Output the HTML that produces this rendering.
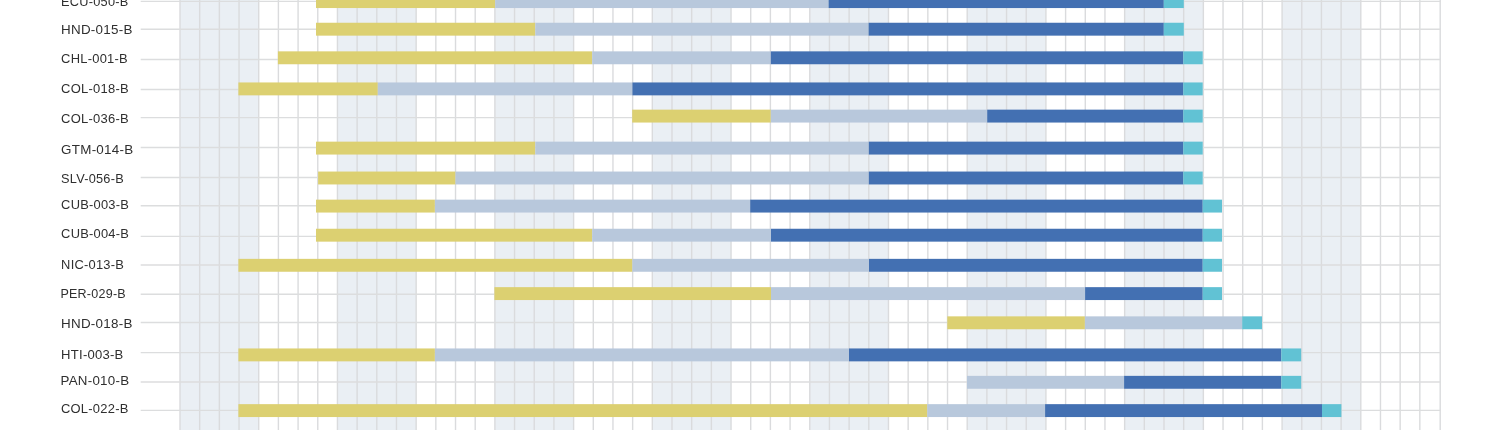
<!DOCTYPE html>
<html lang="en"><head><meta charset="utf-8"><title>Project timeline</title>
<style>
html,body{margin:0;padding:0;background:#fff;}
body{width:1500px;height:430px;overflow:hidden;position:relative;font-family:"Liberation Sans",sans-serif;}
svg{position:absolute;left:0;top:0;display:block;}
text{font-family:"Liberation Sans",sans-serif;font-size:13.3px;fill:#2f2f2f;letter-spacing:0.25px;}
</style></head><body>
<svg width="1500" height="430" viewBox="0 0 1500 430">

<rect x="180.00" y="0" width="78.72" height="430" fill="#eaeff4"/>
<rect x="337.44" y="0" width="78.72" height="430" fill="#eaeff4"/>
<rect x="494.88" y="0" width="78.72" height="430" fill="#eaeff4"/>
<rect x="652.32" y="0" width="78.72" height="430" fill="#eaeff4"/>
<rect x="809.76" y="0" width="78.72" height="430" fill="#eaeff4"/>
<rect x="967.20" y="0" width="78.72" height="430" fill="#eaeff4"/>
<rect x="1124.64" y="0" width="78.72" height="430" fill="#eaeff4"/>
<rect x="1282.08" y="0" width="78.72" height="430" fill="#eaeff4"/>
<line x1="180.00" y1="0" x2="180.00" y2="430" stroke="#dadbdd" stroke-width="1.4"/>
<line x1="199.68" y1="0" x2="199.68" y2="430" stroke="#dadbdd" stroke-width="1.4"/>
<line x1="219.36" y1="0" x2="219.36" y2="430" stroke="#dadbdd" stroke-width="1.4"/>
<line x1="239.04" y1="0" x2="239.04" y2="430" stroke="#dadbdd" stroke-width="1.4"/>
<line x1="258.72" y1="0" x2="258.72" y2="430" stroke="#dadbdd" stroke-width="1.4"/>
<line x1="278.40" y1="0" x2="278.40" y2="430" stroke="#dadbdd" stroke-width="1.4"/>
<line x1="298.08" y1="0" x2="298.08" y2="430" stroke="#dadbdd" stroke-width="1.4"/>
<line x1="317.76" y1="0" x2="317.76" y2="430" stroke="#dadbdd" stroke-width="1.4"/>
<line x1="337.44" y1="0" x2="337.44" y2="430" stroke="#dadbdd" stroke-width="1.4"/>
<line x1="357.12" y1="0" x2="357.12" y2="430" stroke="#dadbdd" stroke-width="1.4"/>
<line x1="376.80" y1="0" x2="376.80" y2="430" stroke="#dadbdd" stroke-width="1.4"/>
<line x1="396.48" y1="0" x2="396.48" y2="430" stroke="#dadbdd" stroke-width="1.4"/>
<line x1="416.16" y1="0" x2="416.16" y2="430" stroke="#dadbdd" stroke-width="1.4"/>
<line x1="435.84" y1="0" x2="435.84" y2="430" stroke="#dadbdd" stroke-width="1.4"/>
<line x1="455.52" y1="0" x2="455.52" y2="430" stroke="#dadbdd" stroke-width="1.4"/>
<line x1="475.20" y1="0" x2="475.20" y2="430" stroke="#dadbdd" stroke-width="1.4"/>
<line x1="494.88" y1="0" x2="494.88" y2="430" stroke="#dadbdd" stroke-width="1.4"/>
<line x1="514.56" y1="0" x2="514.56" y2="430" stroke="#dadbdd" stroke-width="1.4"/>
<line x1="534.24" y1="0" x2="534.24" y2="430" stroke="#dadbdd" stroke-width="1.4"/>
<line x1="553.92" y1="0" x2="553.92" y2="430" stroke="#dadbdd" stroke-width="1.4"/>
<line x1="573.60" y1="0" x2="573.60" y2="430" stroke="#dadbdd" stroke-width="1.4"/>
<line x1="593.28" y1="0" x2="593.28" y2="430" stroke="#dadbdd" stroke-width="1.4"/>
<line x1="612.96" y1="0" x2="612.96" y2="430" stroke="#dadbdd" stroke-width="1.4"/>
<line x1="632.64" y1="0" x2="632.64" y2="430" stroke="#dadbdd" stroke-width="1.4"/>
<line x1="652.32" y1="0" x2="652.32" y2="430" stroke="#dadbdd" stroke-width="1.4"/>
<line x1="672.00" y1="0" x2="672.00" y2="430" stroke="#dadbdd" stroke-width="1.4"/>
<line x1="691.68" y1="0" x2="691.68" y2="430" stroke="#dadbdd" stroke-width="1.4"/>
<line x1="711.36" y1="0" x2="711.36" y2="430" stroke="#dadbdd" stroke-width="1.4"/>
<line x1="731.04" y1="0" x2="731.04" y2="430" stroke="#dadbdd" stroke-width="1.4"/>
<line x1="750.72" y1="0" x2="750.72" y2="430" stroke="#dadbdd" stroke-width="1.4"/>
<line x1="770.40" y1="0" x2="770.40" y2="430" stroke="#dadbdd" stroke-width="1.4"/>
<line x1="790.08" y1="0" x2="790.08" y2="430" stroke="#dadbdd" stroke-width="1.4"/>
<line x1="809.76" y1="0" x2="809.76" y2="430" stroke="#dadbdd" stroke-width="1.4"/>
<line x1="829.44" y1="0" x2="829.44" y2="430" stroke="#dadbdd" stroke-width="1.4"/>
<line x1="849.12" y1="0" x2="849.12" y2="430" stroke="#dadbdd" stroke-width="1.4"/>
<line x1="868.80" y1="0" x2="868.80" y2="430" stroke="#dadbdd" stroke-width="1.4"/>
<line x1="888.48" y1="0" x2="888.48" y2="430" stroke="#dadbdd" stroke-width="1.4"/>
<line x1="908.16" y1="0" x2="908.16" y2="430" stroke="#dadbdd" stroke-width="1.4"/>
<line x1="927.84" y1="0" x2="927.84" y2="430" stroke="#dadbdd" stroke-width="1.4"/>
<line x1="947.52" y1="0" x2="947.52" y2="430" stroke="#dadbdd" stroke-width="1.4"/>
<line x1="967.20" y1="0" x2="967.20" y2="430" stroke="#dadbdd" stroke-width="1.4"/>
<line x1="986.88" y1="0" x2="986.88" y2="430" stroke="#dadbdd" stroke-width="1.4"/>
<line x1="1006.56" y1="0" x2="1006.56" y2="430" stroke="#dadbdd" stroke-width="1.4"/>
<line x1="1026.24" y1="0" x2="1026.24" y2="430" stroke="#dadbdd" stroke-width="1.4"/>
<line x1="1045.92" y1="0" x2="1045.92" y2="430" stroke="#dadbdd" stroke-width="1.4"/>
<line x1="1065.60" y1="0" x2="1065.60" y2="430" stroke="#dadbdd" stroke-width="1.4"/>
<line x1="1085.28" y1="0" x2="1085.28" y2="430" stroke="#dadbdd" stroke-width="1.4"/>
<line x1="1104.96" y1="0" x2="1104.96" y2="430" stroke="#dadbdd" stroke-width="1.4"/>
<line x1="1124.64" y1="0" x2="1124.64" y2="430" stroke="#dadbdd" stroke-width="1.4"/>
<line x1="1144.32" y1="0" x2="1144.32" y2="430" stroke="#dadbdd" stroke-width="1.4"/>
<line x1="1164.00" y1="0" x2="1164.00" y2="430" stroke="#dadbdd" stroke-width="1.4"/>
<line x1="1183.68" y1="0" x2="1183.68" y2="430" stroke="#dadbdd" stroke-width="1.4"/>
<line x1="1203.36" y1="0" x2="1203.36" y2="430" stroke="#dadbdd" stroke-width="1.4"/>
<line x1="1223.04" y1="0" x2="1223.04" y2="430" stroke="#dadbdd" stroke-width="1.4"/>
<line x1="1242.72" y1="0" x2="1242.72" y2="430" stroke="#dadbdd" stroke-width="1.4"/>
<line x1="1262.40" y1="0" x2="1262.40" y2="430" stroke="#dadbdd" stroke-width="1.4"/>
<line x1="1282.08" y1="0" x2="1282.08" y2="430" stroke="#dadbdd" stroke-width="1.4"/>
<line x1="1301.76" y1="0" x2="1301.76" y2="430" stroke="#dadbdd" stroke-width="1.4"/>
<line x1="1321.44" y1="0" x2="1321.44" y2="430" stroke="#dadbdd" stroke-width="1.4"/>
<line x1="1341.12" y1="0" x2="1341.12" y2="430" stroke="#dadbdd" stroke-width="1.4"/>
<line x1="1360.80" y1="0" x2="1360.80" y2="430" stroke="#dadbdd" stroke-width="1.4"/>
<line x1="1380.48" y1="0" x2="1380.48" y2="430" stroke="#dadbdd" stroke-width="1.4"/>
<line x1="1400.16" y1="0" x2="1400.16" y2="430" stroke="#dadbdd" stroke-width="1.4"/>
<line x1="1419.84" y1="0" x2="1419.84" y2="430" stroke="#dadbdd" stroke-width="1.4"/>
<line x1="1440.20" y1="0" x2="1440.20" y2="430" stroke="#dadbdd" stroke-width="1.4"/>
<line x1="140.7" y1="1.40" x2="1440.8" y2="1.40" stroke="#dcddde" stroke-width="1.4"/>
<line x1="140.7" y1="29.30" x2="1440.8" y2="29.30" stroke="#dcddde" stroke-width="1.4"/>
<line x1="140.7" y1="59.50" x2="1440.8" y2="59.50" stroke="#dcddde" stroke-width="1.4"/>
<line x1="140.7" y1="89.50" x2="1440.8" y2="89.50" stroke="#dcddde" stroke-width="1.4"/>
<line x1="140.7" y1="117.60" x2="1440.8" y2="117.60" stroke="#dcddde" stroke-width="1.4"/>
<line x1="140.7" y1="147.50" x2="1440.8" y2="147.50" stroke="#dcddde" stroke-width="1.4"/>
<line x1="140.7" y1="177.50" x2="1440.8" y2="177.50" stroke="#dcddde" stroke-width="1.4"/>
<line x1="140.7" y1="205.70" x2="1440.8" y2="205.70" stroke="#dcddde" stroke-width="1.4"/>
<line x1="140.7" y1="236.40" x2="1440.8" y2="236.40" stroke="#dcddde" stroke-width="1.4"/>
<line x1="140.7" y1="265.00" x2="1440.8" y2="265.00" stroke="#dcddde" stroke-width="1.4"/>
<line x1="140.7" y1="294.20" x2="1440.8" y2="294.20" stroke="#dcddde" stroke-width="1.4"/>
<line x1="140.7" y1="322.50" x2="1440.8" y2="322.50" stroke="#dcddde" stroke-width="1.4"/>
<line x1="140.7" y1="352.60" x2="1440.8" y2="352.60" stroke="#dcddde" stroke-width="1.4"/>
<line x1="140.7" y1="382.00" x2="1440.8" y2="382.00" stroke="#dcddde" stroke-width="1.4"/>
<line x1="140.7" y1="410.40" x2="1440.8" y2="410.40" stroke="#dcddde" stroke-width="1.4"/>
<rect x="316.00" y="-4.85" width="179.20" height="12.9" fill="#dcd071"/>
<rect x="495.20" y="-4.85" width="333.40" height="12.9" fill="#b8c8dc"/>
<rect x="828.60" y="-4.85" width="335.20" height="12.9" fill="#4370b2"/>
<rect x="1163.80" y="-4.85" width="20.00" height="12.9" fill="#61c2d4"/>
<rect x="316.00" y="22.75" width="219.30" height="12.9" fill="#dcd071"/>
<rect x="535.30" y="22.75" width="333.30" height="12.9" fill="#b8c8dc"/>
<rect x="868.60" y="22.75" width="295.20" height="12.9" fill="#4370b2"/>
<rect x="1163.80" y="22.75" width="20.00" height="12.9" fill="#61c2d4"/>
<rect x="277.90" y="51.35" width="314.30" height="12.9" fill="#dcd071"/>
<rect x="592.20" y="51.35" width="178.60" height="12.9" fill="#b8c8dc"/>
<rect x="770.80" y="51.35" width="412.50" height="12.9" fill="#4370b2"/>
<rect x="1183.30" y="51.35" width="19.40" height="12.9" fill="#61c2d4"/>
<rect x="238.40" y="82.45" width="139.40" height="12.9" fill="#dcd071"/>
<rect x="377.80" y="82.45" width="254.60" height="12.9" fill="#b8c8dc"/>
<rect x="632.40" y="82.45" width="550.90" height="12.9" fill="#4370b2"/>
<rect x="1183.30" y="82.45" width="19.40" height="12.9" fill="#61c2d4"/>
<rect x="632.20" y="109.65" width="138.60" height="12.9" fill="#dcd071"/>
<rect x="770.80" y="109.65" width="216.40" height="12.9" fill="#b8c8dc"/>
<rect x="987.20" y="109.65" width="196.10" height="12.9" fill="#4370b2"/>
<rect x="1183.30" y="109.65" width="19.40" height="12.9" fill="#61c2d4"/>
<rect x="316.00" y="141.65" width="219.30" height="12.9" fill="#dcd071"/>
<rect x="535.30" y="141.65" width="333.50" height="12.9" fill="#b8c8dc"/>
<rect x="868.80" y="141.65" width="314.50" height="12.9" fill="#4370b2"/>
<rect x="1183.30" y="141.65" width="19.40" height="12.9" fill="#61c2d4"/>
<rect x="318.10" y="171.55" width="137.40" height="12.9" fill="#dcd071"/>
<rect x="455.50" y="171.55" width="413.30" height="12.9" fill="#b8c8dc"/>
<rect x="868.80" y="171.55" width="314.50" height="12.9" fill="#4370b2"/>
<rect x="1183.30" y="171.55" width="19.40" height="12.9" fill="#61c2d4"/>
<rect x="316.00" y="199.65" width="118.90" height="12.9" fill="#dcd071"/>
<rect x="434.90" y="199.65" width="315.30" height="12.9" fill="#b8c8dc"/>
<rect x="750.20" y="199.65" width="452.50" height="12.9" fill="#4370b2"/>
<rect x="1202.70" y="199.65" width="19.30" height="12.9" fill="#61c2d4"/>
<rect x="316.00" y="228.75" width="276.20" height="12.9" fill="#dcd071"/>
<rect x="592.20" y="228.75" width="178.80" height="12.9" fill="#b8c8dc"/>
<rect x="771.00" y="228.75" width="431.70" height="12.9" fill="#4370b2"/>
<rect x="1202.70" y="228.75" width="19.30" height="12.9" fill="#61c2d4"/>
<rect x="238.40" y="258.85" width="394.00" height="12.9" fill="#dcd071"/>
<rect x="632.40" y="258.85" width="236.60" height="12.9" fill="#b8c8dc"/>
<rect x="869.00" y="258.85" width="333.70" height="12.9" fill="#4370b2"/>
<rect x="1202.70" y="258.85" width="19.30" height="12.9" fill="#61c2d4"/>
<rect x="494.40" y="287.15" width="276.60" height="12.9" fill="#dcd071"/>
<rect x="771.00" y="287.15" width="314.10" height="12.9" fill="#b8c8dc"/>
<rect x="1085.10" y="287.15" width="117.60" height="12.9" fill="#4370b2"/>
<rect x="1202.70" y="287.15" width="19.30" height="12.9" fill="#61c2d4"/>
<rect x="947.30" y="316.35" width="137.60" height="12.9" fill="#dcd071"/>
<rect x="1084.90" y="316.35" width="157.30" height="12.9" fill="#b8c8dc"/>
<rect x="1242.20" y="316.35" width="19.80" height="12.9" fill="#61c2d4"/>
<rect x="238.40" y="348.45" width="196.50" height="12.9" fill="#dcd071"/>
<rect x="434.90" y="348.45" width="414.10" height="12.9" fill="#b8c8dc"/>
<rect x="849.00" y="348.45" width="432.30" height="12.9" fill="#4370b2"/>
<rect x="1281.30" y="348.45" width="19.90" height="12.9" fill="#61c2d4"/>
<rect x="967.00" y="375.85" width="157.10" height="12.9" fill="#b8c8dc"/>
<rect x="1124.10" y="375.85" width="157.20" height="12.9" fill="#4370b2"/>
<rect x="1281.30" y="375.85" width="19.90" height="12.9" fill="#61c2d4"/>
<rect x="238.40" y="404.15" width="688.90" height="12.9" fill="#dcd071"/>
<rect x="927.30" y="404.15" width="117.80" height="12.9" fill="#b8c8dc"/>
<rect x="1045.10" y="404.15" width="276.90" height="12.9" fill="#4370b2"/>
<rect x="1322.00" y="404.15" width="19.40" height="12.9" fill="#61c2d4"/>
<text x="61.10" y="5.70" textLength="67.4" lengthAdjust="spacingAndGlyphs">ECU-050-B</text>
<text x="61.10" y="34.00" textLength="71.5" lengthAdjust="spacingAndGlyphs">HND-015-B</text>
<text x="61.10" y="63.10" textLength="66.8" lengthAdjust="spacingAndGlyphs">CHL-001-B</text>
<text x="61.10" y="92.90" textLength="67.8" lengthAdjust="spacingAndGlyphs">COL-018-B</text>
<text x="61.10" y="123.20" textLength="67.8" lengthAdjust="spacingAndGlyphs">COL-036-B</text>
<text x="61.10" y="153.60" textLength="72.3" lengthAdjust="spacingAndGlyphs">GTM-014-B</text>
<text x="61.10" y="183.20" textLength="62.8" lengthAdjust="spacingAndGlyphs">SLV-056-B</text>
<text x="61.10" y="209.20" textLength="68.0" lengthAdjust="spacingAndGlyphs">CUB-003-B</text>
<text x="61.10" y="238.30" textLength="68.0" lengthAdjust="spacingAndGlyphs">CUB-004-B</text>
<text x="61.10" y="268.70" textLength="63.0" lengthAdjust="spacingAndGlyphs">NIC-013-B</text>
<text x="60.40" y="297.60" textLength="65.5" lengthAdjust="spacingAndGlyphs">PER-029-B</text>
<text x="61.10" y="327.70" textLength="71.5" lengthAdjust="spacingAndGlyphs">HND-018-B</text>
<text x="61.10" y="358.70" textLength="62.5" lengthAdjust="spacingAndGlyphs">HTI-003-B</text>
<text x="60.50" y="385.30" textLength="68.8" lengthAdjust="spacingAndGlyphs">PAN-010-B</text>
<text x="60.90" y="413.20" textLength="67.7" lengthAdjust="spacingAndGlyphs">COL-022-B</text>
</svg>
</body></html>
